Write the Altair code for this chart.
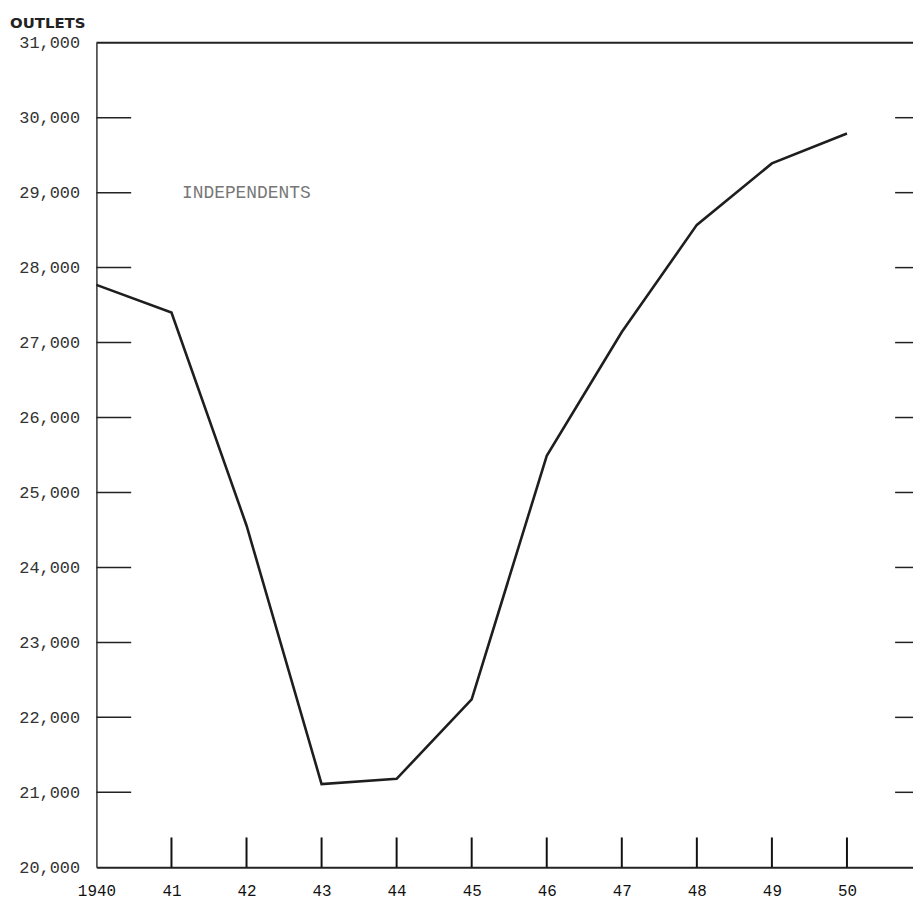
import altair as alt
import pandas as pd

# ---- data ----
years = [1940, 1941, 1942, 1943, 1944, 1945, 1946, 1947, 1948, 1949, 1950]
outlets = [27770, 27400, 24560, 21110, 21180, 22240, 25490, 27140, 28570, 29390, 29790]
y_tick_values = [20000, 21000, 22000, 23000, 24000, 25000, 26000, 27000, 28000, 29000, 30000, 31000]
x_tick_labels = ["1940", "41", "42", "43", "44", "45", "46", "47", "48", "49", "50"]
series_label = "INDEPENDENTS"
series_label_pos = [1941.14, 29000]
axis_title = "OUTLETS"

W, H = 822, 830

df = pd.DataFrame({"year": years, "outlets": outlets})
inner_y = pd.DataFrame({"v": y_tick_values[1:-1]})
inner_x = pd.DataFrame({"year": years[1:]})
top_df = pd.DataFrame({"v": [y_tick_values[-1]]})
lab_df = pd.DataFrame({"year": [series_label_pos[0]], "v": [series_label_pos[1]], "t": [series_label]})
title_df = pd.DataFrame({"t": [axis_title]})

x_scale = alt.Scale(domain=[1940, 1950.88], nice=False, zero=False)
y_scale = alt.Scale(domain=[20000, 31000], nice=False, zero=False)

label_map = "{" + ",".join(f"'{y}':'{l}'" for y, l in zip(years, x_tick_labels)) + "}"

font = "Liberation Mono"

line = alt.Chart(df).mark_line(color="#1e1e1e", strokeWidth=2.6).encode(
    x=alt.X("year:Q", scale=x_scale,
            axis=alt.Axis(values=years, labelExpr=f"{label_map}[toString(datum.value)]",
                          title=None, grid=False, ticks=False, domain=True,
                          domainColor="#222", domainWidth=2, labelPadding=15,
                          labelFlush=False, labelFont=font, labelFontSize=16,
                          labelColor="#111")),
    y=alt.Y("outlets:Q", scale=y_scale,
            axis=alt.Axis(values=y_tick_values, format=",d", title=None, grid=False,
                          ticks=False, domain=True, domainColor="#333", domainWidth=1.5,
                          labelPadding=17, labelFlush=False, labelFont=font,
                          labelFontSize=17, labelColor="#333")),
)

left_ticks = alt.Chart(inner_y).mark_rule(color="#222", strokeWidth=1.5).encode(
    y=alt.Y("v:Q", scale=y_scale), x=alt.value(0), x2=alt.value(35)
)
right_ticks = alt.Chart(inner_y).mark_rule(color="#222", strokeWidth=1.5).encode(
    y=alt.Y("v:Q", scale=y_scale), x=alt.value(W - 18), x2=alt.value(W)
)
bottom_ticks = alt.Chart(inner_x).mark_rule(color="#111", strokeWidth=2).encode(
    x=alt.X("year:Q", scale=x_scale), y=alt.value(H), y2=alt.value(H - 30)
)
top_line = alt.Chart(top_df).mark_rule(color="#222", strokeWidth=2).encode(
    y=alt.Y("v:Q", scale=y_scale), x=alt.value(0), x2=alt.value(W)
)
series_text = alt.Chart(lab_df).mark_text(
    align="left", baseline="middle", font=font, fontSize=18, color="#777"
).encode(x=alt.X("year:Q", scale=x_scale), y=alt.Y("v:Q", scale=y_scale), text="t:N")
title_text = alt.Chart(title_df).mark_text(
    align="left", baseline="middle", font="DejaVu Sans", fontSize=15, fontWeight="bold",
    color="#222"
).encode(x=alt.value(-87), y=alt.value(-20), text="t:N")

chart = alt.layer(
    top_line, left_ticks, right_ticks, bottom_ticks, line, series_text, title_text
).properties(
    width=W, height=H,
    autosize=alt.AutoSizeParams(type="none"),
    padding={"left": 89, "top": 32, "right": 0, "bottom": 33},
).configure_view(stroke=None)

chart.save("out.html", embed_options={"renderer": "svg", "actions": False})
